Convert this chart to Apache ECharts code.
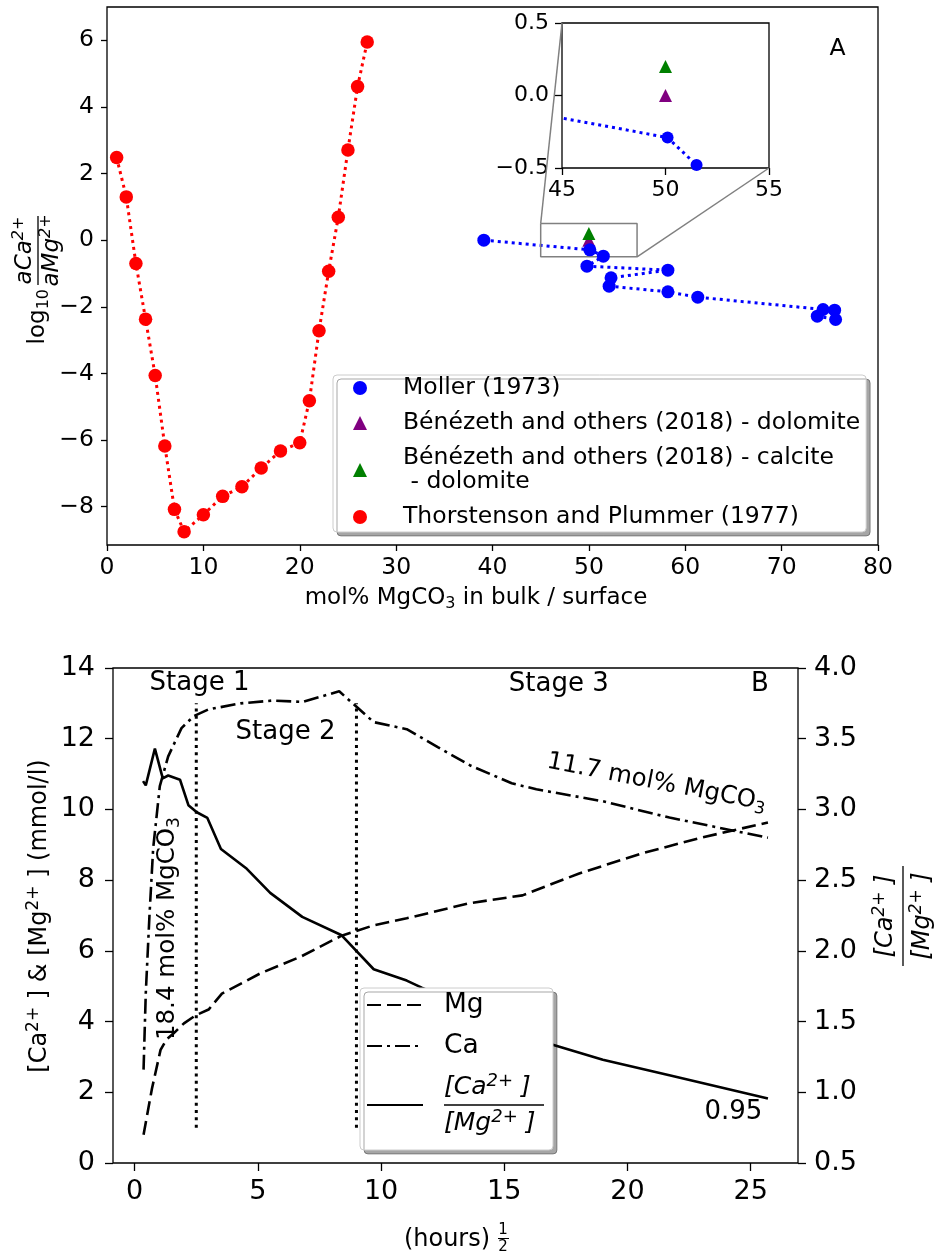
<!DOCTYPE html>
<html><head><meta charset="utf-8">
<script src="https://cdn.jsdelivr.net/npm/echarts@6/dist/echarts.min.js"></script>
<style>html,body{margin:0;padding:0;background:#fff}#c{width:936px;height:1259px}</style>
</head><body><div id="c"></div>
<script>
// ---------------- data (panel A) ----------------
const mollerX = [39.1, 50.1, 51.5, 49.8, 58.2, 52.3, 52.1, 58.2, 61.3, 74.3, 75.5, 73.7, 75.6];
const mollerY = [0.0, -0.29, -0.48, -0.78, -0.90, -1.13, -1.38, -1.55, -1.71, -2.08, -2.10, -2.28, -2.38];
const benezethDolX = [50];
const benezethDolY = [0.0];
const benezethCalX = [50];
const benezethCalY = [0.2];
const thorX = [1, 2, 3, 4, 5, 6, 7, 8, 10, 12, 14, 16, 18, 20, 21, 22, 23, 24, 25, 26, 27];
const thorY = [2.48, 1.30, -0.70, -2.37, -4.06, -6.18, -8.08, -8.75, -8.24, -7.69, -7.40, -6.84, -6.33, -6.08, -4.82, -2.72, -0.93, 0.69, 2.71, 4.61, 5.95];
const topYTicks = [-8, -6, -4, -2, 0, 2, 4, 6];
const insetXRange = [45, 55];
const insetYRange = [-0.5, 0.5];

// ---------------- data (panel B) ----------------
const mgTime = [0.36, 0.7, 1.05, 1.3, 1.57, 2.0, 2.46, 3.0, 3.54, 5.09, 6.72, 8.4, 9.69, 11.04, 13.6, 15.74, 18.04, 20.6, 23.04, 25.7];
const mgConc = [0.80, 2.1, 3.2, 3.5, 3.66, 3.95, 4.17, 4.34, 4.79, 5.36, 5.83, 6.43, 6.72, 6.92, 7.35, 7.57, 8.19, 8.76, 9.21, 9.63];
const caTime = [0.36, 0.45, 0.6, 0.75, 1.02, 1.36, 1.9, 2.4, 3.0, 4.3, 5.6, 6.8, 8.3, 9.7, 11.04, 12.3, 13.6, 15.3, 16.3, 19.0, 21.7, 25.7];
const caConc = [2.64, 4.8, 7.0, 8.9, 10.66, 11.5, 12.3, 12.64, 12.83, 13.0, 13.08, 13.04, 13.34, 12.47, 12.27, 11.76, 11.25, 10.74, 10.57, 10.23, 9.77, 9.2];
const ratioTime = [0.34, 0.45, 0.82, 1.14, 1.36, 1.84, 2.18, 2.52, 2.95, 3.5, 4.55, 5.5, 6.8, 8.4, 9.7, 11.04, 11.65, 16.9, 19.0, 21.7, 25.7];
const ratioVal = [3.2, 3.17, 3.43, 3.22, 3.24, 3.21, 3.03, 2.98, 2.94, 2.72, 2.58, 2.41, 2.24, 2.11, 1.87, 1.79, 1.74, 1.34, 1.23, 1.12, 0.956];
const stageLineX = [2.5, 9];
const stageLineY = [1, 13];
const bottomXTicks = [0, 5, 10, 15, 20, 25];

// ---------------- helpers ----------------
const FONT = 'DejaVu Sans';
const FS = 23;     // panel A text
const FSB = 27;    // panel B tick labels
const zip = (xs, ys) => xs.map((x, i) => [x, ys[i]]);
const fmtMinus = v => String(v).replace('-', '\u2212');
const fmt1 = v => Number(v).toFixed(1).replace('-', '\u2212');

function axis(o) {
  const base = {
    type: 'value',
    axisLine: { show: false, onZero: false },
    splitLine: { show: false },
    axisTick: { show: true, inside: false, length: o.tickLen || 6, lineStyle: { color: '#000', width: 1.3 } },
    axisLabel: { color: '#000', fontSize: o.fontSize || FS, fontFamily: FONT, margin: o.margin || 10 }
  };
  if (o.custom) { base.axisTick.customValues = o.custom; base.axisLabel.customValues = o.custom; }
  if (o.formatter) base.axisLabel.formatter = o.formatter;
  ['gridIndex', 'min', 'max', 'interval', 'position'].forEach(k => { if (o[k] !== undefined) base[k] = o[k]; });
  return base;
}

// rich styles for graphic texts (zrender naming)
function richSet(size, supSize) {
  return {
    m: { fontSize: size, fontFamily: FONT, lineHeight: size + 5, fill: '#000' },
    mi: { fontSize: size, fontFamily: FONT, fontStyle: 'italic', lineHeight: size + 5, fill: '#000' },
    sup: { fontSize: supSize, fontFamily: FONT, lineHeight: supSize - 4, verticalAlign: 'top', fill: '#000' },
    supi: { fontSize: supSize, fontFamily: FONT, fontStyle: 'italic', lineHeight: supSize - 4, verticalAlign: 'top', fill: '#000' },
    sub: { fontSize: supSize, fontFamily: FONT, lineHeight: supSize - 2, verticalAlign: 'bottom', fill: '#000' }
  };
}
const GR = richSet(23, 16);
const GR24 = richSet(24, 17);
const GR245 = richSet(24.5, 17);

const chart = echarts.init(document.getElementById('c'), null, { renderer: 'canvas', width: 936, height: 1259 });

const dotted = (color) => ({ color: color, width: 3, type: [3, 4] });
const solid = (color) => ({ color: color, opacity: 1 });
const calLabel = 'Bénézeth and others (2018) - calcite\n - dolomite';
const legendBox = {
  selectedMode: false, orient: 'vertical',
  backgroundColor: '#fff', borderColor: '#cccccc', borderWidth: 1, borderRadius: 4,
  shadowColor: 'rgba(0,0,0,0.35)', shadowBlur: 0, shadowOffsetX: 4, shadowOffsetY: 4
};

const option = {
  animation: false,
  backgroundColor: '#fff',
  textStyle: { fontFamily: FONT },
  grid: [
    { left: 107, top: 7, width: 771, height: 538, show: true, borderColor: '#000', borderWidth: 1.3, backgroundColor: 'transparent', outerBoundsMode: 'none' },
    { left: 562, top: 23, width: 207, height: 145, show: true, borderColor: '#000', borderWidth: 1.3, backgroundColor: '#fff', outerBoundsMode: 'none' },
    { left: 113, top: 668, width: 685, height: 495, show: true, borderColor: '#000', borderWidth: 1.3, backgroundColor: 'transparent', outerBoundsMode: 'none' }
  ],
  xAxis: [
    axis({ gridIndex: 0, min: 0, max: 80, interval: 10, margin: 11, tickLen: 6, fontSize: 23.5 }),
    axis({ gridIndex: 1, min: insetXRange[0], max: insetXRange[1], interval: 5, margin: 11, tickLen: 7, fontSize: 22 }),
    axis({ gridIndex: 2, min: -0.88, max: 26.92, custom: bottomXTicks, margin: 15, tickLen: 8, fontSize: FSB, position: 'bottom' })
  ],
  yAxis: [
    axis({ gridIndex: 0, min: -9.15, max: 7, custom: topYTicks, formatter: fmtMinus, margin: 13, tickLen: 6, fontSize: 23.5 }),
    axis({ gridIndex: 1, min: insetYRange[0], max: insetYRange[1], interval: 0.5, formatter: fmt1, margin: 13, tickLen: 7, fontSize: 22 }),
    axis({ gridIndex: 2, min: 0, max: 14, interval: 2, margin: 18, tickLen: 8, fontSize: FSB, position: 'left' }),
    axis({ gridIndex: 2, min: 0.5, max: 4.0, interval: 0.5, position: 'right', formatter: fmt1, margin: 16, tickLen: 8, fontSize: FSB })
  ],
  legend: [
    Object.assign({}, legendBox, {
      left: 333, top: 375,
      padding: [1, 6, 3, 20], itemWidth: 14, itemHeight: 14, itemGap: 11,
      itemStyle: { opacity: 1 },
      textStyle: { fontSize: 23.5, lineHeight: 24, color: '#000', fontFamily: FONT, padding: [0, 0, 0, 31] },
      formatter: name => name === 'benCal' ? calLabel : name,
      data: [
        { name: 'Moller (1973)', icon: 'circle' },
        { name: 'Bénézeth and others (2018) - dolomite', icon: 'triangle' },
        { name: 'benCal', icon: 'triangle' },
        { name: 'Thorstenson and Plummer (1977)', icon: 'circle' }
      ]
    }),
    Object.assign({}, legendBox, {
      left: 360, top: 988,
      padding: [2, 9, 12, 6], itemWidth: 56, itemHeight: 14, itemGap: 11,
      itemStyle: { color: 'rgba(0,0,0,0)', borderColor: 'rgba(0,0,0,0)', borderWidth: 0 },
      textStyle: {
        fontSize: 26.5, lineHeight: 30, color: '#000', fontFamily: FONT, padding: [0, 0, 0, 16],
        rich: {
          n: { fontSize: 25, fontStyle: 'italic', lineHeight: 30, color: '#000', fontFamily: FONT },
          ns: { fontSize: 18, fontStyle: 'italic', lineHeight: 13, verticalAlign: 'top', color: '#000', fontFamily: FONT },
          bar: { width: 100, height: 1.5, lineHeight: 6, backgroundColor: '#000', fontSize: 2 }
        }
      },
      formatter: name => name === 'ratio' ? '{n|[Ca}{ns|2+}{n| ]}\n{bar| }\n{n|[Mg}{ns|2+}{n| ]}' : name,
      data: ['Mg', 'Ca', 'ratio']
    })
  ],
  series: [
    { name: 'Bénézeth and others (2018) - dolomite', type: 'scatter', xAxisIndex: 0, yAxisIndex: 0, symbol: 'triangle', symbolSize: 13, itemStyle: solid('#800080'), data: zip(benezethDolX, benezethDolY) },
    { name: 'benCal', type: 'scatter', xAxisIndex: 0, yAxisIndex: 0, symbol: 'triangle', symbolSize: 13, itemStyle: solid('#008000'), data: zip(benezethCalX, benezethCalY) },
    { name: 'Moller (1973)', type: 'line', xAxisIndex: 0, yAxisIndex: 0, symbol: 'circle', symbolSize: 13, showAllSymbol: true, itemStyle: solid('#0000ff'), lineStyle: dotted('#0000ff'), data: zip(mollerX, mollerY) },
    { name: 'Thorstenson and Plummer (1977)', type: 'line', xAxisIndex: 0, yAxisIndex: 0, symbol: 'circle', symbolSize: 13.5, showAllSymbol: true, itemStyle: solid('#ff0000'), lineStyle: dotted('#ff0000'), data: zip(thorX, thorY) },
    { name: 'insetBox', type: 'line', xAxisIndex: 0, yAxisIndex: 0, symbol: 'none', silent: true,
      lineStyle: { color: '#808080', width: 1.5 },
      data: [[insetXRange[0], insetYRange[1]], [insetXRange[1], insetYRange[1]], [insetXRange[1], insetYRange[0]], [insetXRange[0], insetYRange[0]], [insetXRange[0], insetYRange[1]]] },
    { name: 'insetDol', type: 'scatter', xAxisIndex: 1, yAxisIndex: 1, symbol: 'triangle', symbolSize: 13, itemStyle: solid('#800080'), data: zip(benezethDolX, benezethDolY) },
    { name: 'insetCal', type: 'scatter', xAxisIndex: 1, yAxisIndex: 1, symbol: 'triangle', symbolSize: 13, itemStyle: solid('#008000'), data: zip(benezethCalX, benezethCalY) },
    { name: 'insetMoller', type: 'line', xAxisIndex: 1, yAxisIndex: 1, clip: true, symbol: 'circle', symbolSize: 12, showAllSymbol: true, itemStyle: solid('#0000ff'), lineStyle: dotted('#0000ff'), data: zip(mollerX, mollerY) },
    { name: 'Mg', type: 'line', xAxisIndex: 2, yAxisIndex: 2, symbol: 'none', lineStyle: { color: '#000', width: 2.6, type: [14, 6] }, itemStyle: { color: '#000' }, data: zip(mgTime, mgConc) },
    { name: 'Ca', type: 'line', xAxisIndex: 2, yAxisIndex: 2, symbol: 'none', lineStyle: { color: '#000', width: 2.6, type: [15, 5, 3, 5] }, itemStyle: { color: '#000' }, data: zip(caTime, caConc) },
    { name: 'ratio', type: 'line', xAxisIndex: 2, yAxisIndex: 3, symbol: 'none', lineStyle: { color: '#000', width: 2.6 }, itemStyle: { color: '#000' }, data: zip(ratioTime, ratioVal) },
    { name: 'stage1', type: 'line', xAxisIndex: 2, yAxisIndex: 2, symbol: 'none', silent: true, lineStyle: { color: '#000', width: 3, type: [3, 4.3] }, data: [[stageLineX[0], stageLineY[0]], [stageLineX[0], stageLineY[1]]] },
    { name: 'stage2', type: 'line', xAxisIndex: 2, yAxisIndex: 2, symbol: 'none', silent: true, lineStyle: { color: '#000', width: 3, type: [3, 4.3] }, data: [[stageLineX[1], stageLineY[0]], [stageLineX[1], stageLineY[1]]] }
  ]
};
chart.setOption(option);

const pA = (x, y) => chart.convertToPixel({ xAxisIndex: 0, yAxisIndex: 0 }, [x, y]);
const pIn = (x, y) => chart.convertToPixel({ xAxisIndex: 1, yAxisIndex: 1 }, [x, y]);
const pB = (x, y) => chart.convertToPixel({ xAxisIndex: 2, yAxisIndex: 2 }, [x, y]);
const pBr = (x, y) => chart.convertToPixel({ xAxisIndex: 2, yAxisIndex: 3 }, [x, y]);

function rt(p, text, rich, extra) {
  return Object.assign({
    type: 'text', x: p[0], y: p[1], z: 100,
    style: { text: text, rich: rich, fill: '#000', fontSize: 23, fontFamily: FONT, align: 'center', verticalAlign: 'middle' }
  }, extra || {});
}
const plain = (p, text, size) => ({ type: 'text', x: p[0], y: p[1], z: 100,
  style: { text: text, fill: '#000', fontSize: size, fontFamily: FONT, align: 'center', verticalAlign: 'middle' } });

const c1a = pA(insetXRange[0], insetYRange[1]), c1b = pIn(insetXRange[0], insetYRange[1]);
const c2a = pA(insetXRange[1], insetYRange[0]), c2b = pIn(insetXRange[1], insetYRange[0]);

const stageText = ['Stage 1', 'Stage 2', 'Stage 3', 'B'];
const stageTextX = [2.63, 6.12, 17.21, 25.37];
const stageTextY = [13.56, 12.18, 13.54, 13.54];

const graphics = [
  { type: 'line', z: 50, shape: { x1: c1a[0], y1: c1a[1], x2: c1b[0], y2: c1b[1] }, style: { stroke: '#808080', lineWidth: 1.5 } },
  { type: 'line', z: 50, shape: { x1: c2a[0], y1: c2a[1], x2: c2b[0], y2: c2b[1] }, style: { stroke: '#808080', lineWidth: 1.5 } },
  plain(pA(75.8, 5.74), 'A', 23.5),
  rt([476, 598], '{m|mol% MgCO}{sub|3}{m| in bulk / surface}', GR),
  { type: 'group', x: 38, y: 287, rotation: Math.PI / 2, z: 100, children: [
    { type: 'text', x: -2, y: 0, style: { text: '{m|log}{sub|10}', rich: GR, align: 'right', verticalAlign: 'middle' } },
    { type: 'text', x: 36.5, y: -13, style: { text: '{mi|aCa}{supi|2+}', rich: GR, align: 'center', verticalAlign: 'middle' } },
    { type: 'line', shape: { x1: 2, y1: 0, x2: 71, y2: 0 }, style: { stroke: '#000', lineWidth: 1.3 } },
    { type: 'text', x: 36.5, y: 14, style: { text: '{mi|aMg}{supi|2+}', rich: GR, align: 'center', verticalAlign: 'middle' } }
  ] },
  rt([40, 916], '{m|[Ca}{sup|2+}{m| ] & [Mg}{sup|2+}{m| ] (mmol/l)}', GR24, { rotation: Math.PI / 2 }),
  { type: 'group', x: 903, y: 916, rotation: Math.PI / 2, z: 100, children: [
    { type: 'text', x: 0, y: -17, style: { text: '{mi|[Ca}{supi|2+}{mi| ]}', rich: GR24, align: 'center', verticalAlign: 'middle' } },
    { type: 'line', shape: { x1: -50, y1: 0, x2: 50, y2: 0 }, style: { stroke: '#000', lineWidth: 1.3 } },
    { type: 'text', x: 0, y: 20, style: { text: '{mi|[Mg}{supi|2+}{mi| ]}', rich: GR24, align: 'center', verticalAlign: 'middle' } }
  ] },
  rt([447, 1240], '{m|(hours)}', GR24),
  plain([503, 1230], '1', 15),
  { type: 'line', z: 100, shape: { x1: 498, y1: 1238.5, x2: 509, y2: 1238.5 }, style: { stroke: '#000', lineWidth: 1 } },
  plain([503, 1247], '2', 15),
  rt(pB(1.35, 6.63), '{m|18.4 mol% MgCO}{sub|3}', GR245, { rotation: Math.PI / 2 }),
  rt(pB(21.18, 10.76), '{m|11.7 mol% MgCO}{sub|3}', GR245, { rotation: -11 * Math.PI / 180 }),
  plain(pBr(24.3, 0.86), '0.95', 26)
];
stageText.forEach((t, i) => graphics.push(plain(pB(stageTextX[i], stageTextY[i]), t, 26)));

chart.setOption({ graphic: graphics });
</script>
</body></html>
